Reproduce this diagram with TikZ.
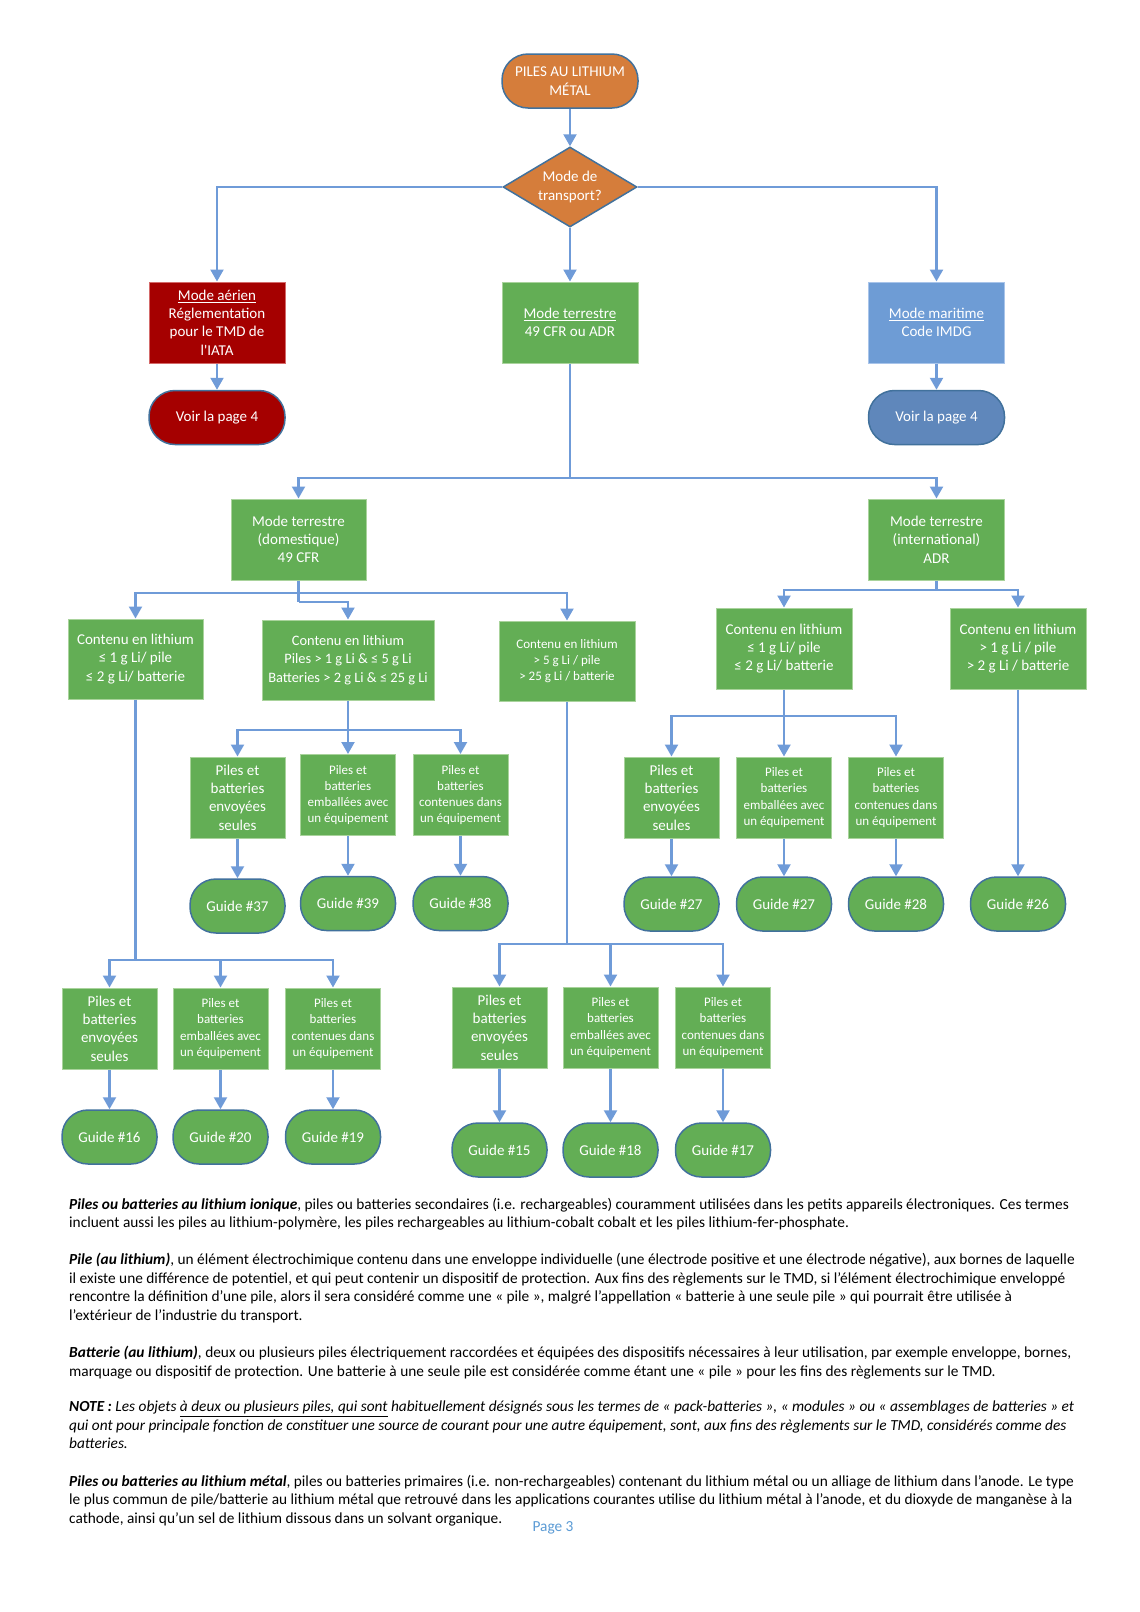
\documentclass[tikz,border=0pt]{standalone}
\usepackage{fontspec}
\setmainfont{Carlito}
\usetikzlibrary{arrows.meta, shapes.geometric}

\definecolor{flowblue}{HTML}{6F9BD8}
\definecolor{termline}{HTML}{41719C}
\definecolor{startorange}{HTML}{D57D3B}
\definecolor{airred}{HTML}{A50000}
\definecolor{airedge}{HTML}{D46A6A}
\definecolor{landgreen}{HTML}{63AE55}
\definecolor{landedge}{HTML}{A9D39C}
\definecolor{seablue}{HTML}{6E9CD5}
\definecolor{seaedge}{HTML}{A8C4EA}
\definecolor{seadark}{HTML}{5F87BB}
\definecolor{pageblue}{HTML}{5B9BD5}

\newcommand{\flowfont}{\fontsize{15}{18.3}\selectfont}
\newcommand{\flowsmall}{\fontsize{13}{16.3}\selectfont}
\newcommand{\notefont}{\fontsize{15.35}{18.5}\selectfont}

\begin{document}
\begin{tikzpicture}[x=1pt, y=-1pt,
    link/.style={draw=flowblue, line width=2.2pt},
    conn/.style={link, -{Triangle[width=13pt, length=12pt]}},
    term/.style={rectangle, rounded corners=26pt, minimum width=95pt, minimum height=54pt,
      draw=termline, line width=1.5pt, fill=landgreen, text=white, align=center,
      font=\flowfont, inner sep=0pt},
    flowbox/.style={rectangle, fill=landgreen, draw=landedge, line width=1pt, text=white,
      align=center, font=\flowfont, inner sep=0pt, minimum width=136pt, minimum height=81pt},
    itembox/.style={flowbox, minimum width=95pt},
    note/.style={anchor=north west, align=left, font=\notefont, inner sep=0pt}]

  \fill[white] (0,0) rectangle (1140,1612);
  \useasboundingbox (0,0) rectangle (1140,1612);

  % Start and transport mode
  \node[term, fill=startorange, minimum width=136pt] (start) at (570,81) {PILES AU LITHIUM\\MÉTAL};
  \node[diamond, aspect=1.7, fill=startorange, draw=termline, line width=1.5pt, minimum width=134pt,
    minimum height=80pt, inner sep=0pt, text=white, align=center, font=\flowfont]
    (mode) at (570,187) {Mode de\\transport?};

  % Air, land, sea
  \node[flowbox, fill=airred, draw=airedge] (air) at (217,322.5)
    {\underline{Mode aérien}\\Réglementation\\pour le TMD de\\l\textquotesingle IATA};
  \node[flowbox] (land) at (570,322.5) {\underline{Mode terrestre}\\49 CFR ou ADR};
  \node[flowbox, fill=seablue, draw=seaedge] (sea) at (936.5,322.5) {\underline{Mode maritime}\\Code IMDG};
  \node[term, fill=airred, minimum width=136pt] (airpage) at (217,417.5) {Voir la page 4};
  \node[term, fill=seadark, minimum width=136pt] (seapage) at (936.5,417.5) {Voir la page 4};

  % Domestic and international
  \node[flowbox, minimum width=135pt] (dom) at (298.5,539.5) {Mode terrestre\\(domestique)\\49 CFR};
  \node[flowbox] (intl) at (936.5,539.5) {Mode terrestre\\(international)\\ADR};

  % Lithium content
  \node[flowbox, minimum width=135pt, minimum height=80pt] (domlow) at (135.5,659)
    {Contenu en lithium\\≤ 1 g Li/ pile\\≤ 2 g Li/ batterie};
  \node[flowbox, minimum width=172pt, minimum height=80pt, font=\fontsize{14.4}{18.3}\selectfont] (dommid) at (348,660)
    {Contenu en lithium\\Piles > 1 g Li \& ≤ 5 g Li\\Batteries > 2 g Li \& ≤ 25 g Li};
  \node[flowbox, minimum height=80pt, font=\flowsmall] (domhigh) at (567,661)
    {Contenu en lithium\\> 5 g Li / pile\\> 25 g Li / batterie};
  \node[flowbox] (intllow) at (784,648.5) {Contenu en lithium\\≤ 1 g Li/ pile\\≤ 2 g Li/ batterie};
  \node[flowbox] (intlhigh) at (1018,648.5) {Contenu en lithium\\> 1 g Li / pile\\> 2 g Li / batterie};

  % Domestic, middle content
  \node[itembox] (midalone) at (237.5,797.5) {Piles et\\batteries\\envoyées\\seules};
  \node[itembox, font=\flowsmall] (midpacked) at (348,795) {Piles et\\batteries\\emballées avec\\un équipement};
  \node[itembox, font=\flowsmall] (midinside) at (460.5,795) {Piles et\\batteries\\contenues dans\\un équipement};
  \node[term] (guide37) at (237.5,906) {Guide \#37};
  \node[term] (guide39) at (348,903.5) {Guide \#39};
  \node[term] (guide38) at (460.5,903.5) {Guide \#38};

  % International, low content
  \node[itembox] (intalone) at (671.5,797.5) {Piles et\\batteries\\envoyées\\seules};
  \node[itembox, font=\flowsmall] (intpacked) at (784,797.5) {Piles et\\batteries\\emballées avec\\un équipement};
  \node[itembox, font=\flowsmall] (intinside) at (896,797.5) {Piles et\\batteries\\contenues dans\\un équipement};
  \node[term] (guide27a) at (671.5,904) {Guide \#27};
  \node[term] (guide27b) at (784,904) {Guide \#27};
  \node[term] (guide28) at (896,904) {Guide \#28};
  \node[term] (guide26) at (1018,904) {Guide \#26};

  % Domestic, low content
  \node[itembox] (lowalone) at (109.5,1028.5) {Piles et\\batteries\\envoyées\\seules};
  \node[itembox, font=\flowsmall] (lowpacked) at (220.5,1028.5) {Piles et\\batteries\\emballées avec\\un équipement};
  \node[itembox, font=\flowsmall] (lowinside) at (333,1028.5) {Piles et\\batteries\\contenues dans\\un équipement};
  \node[term] (guide16) at (109.5,1137) {Guide \#16};
  \node[term] (guide20) at (220.5,1137) {Guide \#20};
  \node[term] (guide19) at (333,1137) {Guide \#19};

  % Domestic, high content
  \node[itembox] (highalone) at (499.5,1027.5) {Piles et\\batteries\\envoyées\\seules};
  \node[itembox, font=\flowsmall] (highpacked) at (610.5,1027.5) {Piles et\\batteries\\emballées avec\\un équipement};
  \node[itembox, font=\flowsmall] (highinside) at (723,1027.5) {Piles et\\batteries\\contenues dans\\un équipement};
  \node[term] (guide15) at (499.5,1150) {Guide \#15};
  \node[term] (guide18) at (610.5,1150) {Guide \#18};
  \node[term] (guide17) at (723,1150) {Guide \#17};

  % Branch points
  \coordinate (landsplit) at (570,478);
  \coordinate (domsplit) at (298.5,593);
  \coordinate (domjog) at (298.5,602);
  \coordinate (intlsplit) at (936.5,590);
  \coordinate (midsplit) at (348,730);
  \coordinate (intlowsplit) at (784,716);
  \coordinate (lowsplit) at (135.5,960);
  \coordinate (highsplit) at (567,944);

  % Connectors, top
  \draw[conn] (start) -- (mode);
  \draw[conn] (mode.west) -| (air.north);
  \draw[conn] (mode) -- (land);
  \draw[conn] (mode.east) -| (sea.north);
  \draw[conn] (air) -- (airpage);
  \draw[conn] (sea) -- (seapage);
  \draw[link] (land.south) -- (landsplit);
  \draw[conn] (landsplit) -| (dom.north);
  \draw[conn] (landsplit) -| (intl.north);
  \draw[link] (dom.south) -- (domjog);
  \draw[conn] (domsplit) -| (domlow.north);
  \draw[conn] (domsplit) -| (domhigh.north);
  \draw[conn] (domjog) -| (dommid.north);
  \draw[link] (intl.south) -- (intlsplit);
  \draw[conn] (intlsplit) -| (intllow.north);
  \draw[conn] (intlsplit) -| (intlhigh.north);
  \draw[conn] (intlhigh) -- (guide26);

  % Connectors, rows
  \draw[link] (dommid.south) -- (midsplit);
  \draw[conn] (midsplit) -| (midalone.north);
  \draw[conn] (midsplit) -- (midpacked.north);
  \draw[conn] (midsplit) -| (midinside.north);
  \draw[conn] (midalone) -- (guide37);
  \draw[conn] (midpacked) -- (guide39);
  \draw[conn] (midinside) -- (guide38);

  \draw[link] (intllow.south) -- (intlowsplit);
  \draw[conn] (intlowsplit) -| (intalone.north);
  \draw[conn] (intlowsplit) -- (intpacked.north);
  \draw[conn] (intlowsplit) -| (intinside.north);
  \draw[conn] (intalone) -- (guide27a);
  \draw[conn] (intpacked) -- (guide27b);
  \draw[conn] (intinside) -- (guide28);

  \draw[link] (domlow.south) -- (lowsplit);
  \draw[conn] (lowsplit) -| (lowalone.north);
  \draw[conn] (lowsplit) -| (lowpacked.north);
  \draw[conn] (lowsplit) -| (lowinside.north);
  \draw[conn] (lowalone) -- (guide16);
  \draw[conn] (lowpacked) -- (guide20);
  \draw[conn] (lowinside) -- (guide19);

  \draw[link] (domhigh.south) -- (highsplit);
  \draw[conn] (highsplit) -| (highalone.north);
  \draw[conn] (highsplit) -| (highpacked.north);
  \draw[conn] (highsplit) -| (highinside.north);
  \draw[conn] (highalone) -- (guide15);
  \draw[conn] (highpacked) -- (guide18);
  \draw[conn] (highinside) -- (guide17);

  % Definitions
  \node[note] (ionique) at (69,1198) {\textbf{\textit{Piles ou batteries au lithium ionique}}, piles ou batteries secondaires (i.e. rechargeables) couramment utilisées dans les petits appareils électroniques. Ces termes\\
    incluent aussi les piles au lithium-polymère, les piles rechargeables au lithium-cobalt cobalt et les piles lithium-fer-phosphate.};
  \node[note] (pile) at (69,1253) {\textbf{\textit{Pile (au lithium)}}, un élément électrochimique contenu dans une enveloppe individuelle (une électrode positive et une électrode négative), aux bornes de laquelle\\
    il existe une différence de potentiel, et qui peut contenir un dispositif de protection. Aux fins des règlements sur le TMD, si l’élément électrochimique enveloppé\\
    rencontre la définition d’une pile, alors il sera considéré comme une «~pile~», malgré l’appellation «~batterie à une seule pile~» qui pourrait être utilisée à\\
    l’extérieur de l’industrie du transport.};
  \node[note] (batterie) at (69,1346) {\textbf{\textit{Batterie (au lithium)}}, deux ou plusieurs piles électriquement raccordées et équipées des dispositifs nécessaires à leur utilisation, par exemple enveloppe, bornes,\\
    marquage ou dispositif de protection. Une batterie à une seule pile est considérée comme étant une «~pile~» pour les fins des règlements sur le TMD.};
  \node[note, font=\notefont\itshape] (remark) at (69,1401) {\textbf{NOTE :} Les objets \underline{à deux ou plusieurs piles, qui sont} habituellement désignés sous les termes de «~pack-batteries~», «~modules~» ou «~assemblages de batteries~» et\\
    qui ont pour principale fonction de constituer une source de courant pour une autre équipement, sont, aux fins des règlements sur le TMD, considérés comme des\\
    batteries.};
  \node[note] (metal) at (69,1475) {\textbf{\textit{Piles ou batteries au lithium métal}}, piles ou batteries primaires (i.e. non-rechargeables) contenant du lithium métal ou un alliage de lithium dans l’anode. Le type\\
    le plus commun de pile/batterie au lithium métal que retrouvé dans les applications courantes utilise du lithium métal à l’anode, et du dioxyde de manganèse à la\\
    cathode, ainsi qu’un sel de lithium dissous dans un solvant organique.};
  \node[font=\notefont, text=pageblue, inner sep=0pt] (pagenum) at (553,1528) {Page 3};
\end{tikzpicture}
\end{document}
